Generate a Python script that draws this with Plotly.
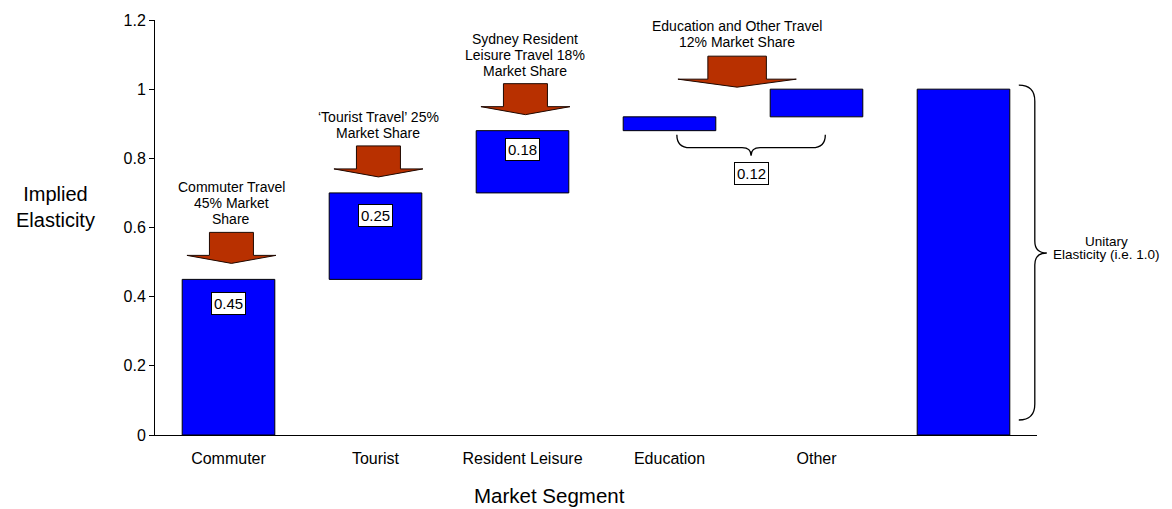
import plotly.graph_objects as go

# ---- data -------------------------------------------------------------
segments = ["Commuter", "Tourist", "Resident Leisure", "Education", "Other"]
shares = [0.45, 0.25, 0.18, 0.04, 0.08]          # implied elasticity contribution
total_elasticity = 1.0
callouts = [
    "Commuter Travel<br>45% Market<br>Share",
    "\u2018Tourist Travel\u2019 25%<br>Market Share",
    "Sydney Resident<br>Leisure Travel 18%<br>Market Share",
    "Education and Other Travel<br>12% Market Share",
]
total_note = "Unitary<br>Elasticity (i.e. 1.0)"
y_ticks = [0, 0.2, 0.4, 0.6, 0.8, 1.0, 1.2]

# ---- derived waterfall geometry --------------------------------------
bases = []
run = 0.0
for s in shares:
    bases.append(run)
    run += s
tops = [b + s for b, s in zip(bases, shares)]

xs = list(range(len(segments) + 1))
bar_y = shares + [total_elasticity]
bar_base = bases + [0.0]

FONT = "Arial, 'Liberation Sans', sans-serif"
BLUE = "#0000FF"
ARROW = "#B83000"
X_RANGE = (-0.5, len(xs) - 0.5)
Y_RANGE = (0, 1.2)

# plot area size in pixels, used to turn pixel sizes into data units
L, R, T, B = 155, 135, 20, 74
PW, PH = 1172 - L - R, 509 - T - B
UX = (X_RANGE[1] - X_RANGE[0]) / PW   # data units per px (x)
UY = (Y_RANGE[1] - Y_RANGE[0]) / PH   # data units per px (y)

LINE_PX = 16          # tight line spacing for multi-line notes
box_drop_px = [13, 11, 7]


def xp(x):
    return (x - X_RANGE[0]) / (X_RANGE[1] - X_RANGE[0])


def yp(y):
    return (y - Y_RANGE[0]) / (Y_RANGE[1] - Y_RANGE[0])


fig = go.Figure()
fig.add_trace(go.Bar(
    x=xs, y=bar_y, base=bar_base, width=0.63,
    marker=dict(color=BLUE, line=dict(color="black", width=1)),
    hoverinfo="skip", showlegend=False,
))

shapes = []
annotations = []


def block_arrow(xc, ytip, scale=1.0):
    shw, hhw = 22 * UX * scale, 44.5 * UX * scale
    head_h, shaft_h = 8 * UY, 23 * UY
    yhb = ytip + head_h
    ytop = yhb + shaft_h
    path = (f"M {xc-shw},{ytop} L {xc+shw},{ytop} L {xc+shw},{yhb} "
            f"L {xc+hhw},{yhb} L {xc},{ytip} L {xc-hhw},{yhb} L {xc-shw},{yhb} Z")
    shapes.append(dict(type="path", xref="x", yref="y", path=path,
                       fillcolor=ARROW, line=dict(color="#1e0800", width=1),
                       layer="above"))
    return ytop


def stacked_text(x, y, text, first_center_px, size, xref="x", yref="y"):
    """Place each line separately (bottom line first_center_px above y)."""
    lines = text.split("<br>")
    n = len(lines)
    for k, line in enumerate(lines):
        annotations.append(dict(
            x=x, y=y, xref=xref, yref=yref, text=line, showarrow=False,
            xanchor="center", yanchor="middle",
            yshift=first_center_px + (n - 1 - k) * LINE_PX,
            font=dict(family=FONT, size=size, color="black")))


def value_box(xc, y, text, yshift):
    annotations.append(dict(x=xc, y=y, xref="x", yref="y", text=text,
                            showarrow=False, yanchor="top", yshift=yshift,
                            bgcolor="white", bordercolor="black", borderwidth=1,
                            borderpad=2,
                            font=dict(family=FONT, size=15, color="black")))


# individual segments: arrow + callout + value box
for i in range(3):
    ytop = block_arrow(i + 0.02, tops[i] + 16 * UY)
    stacked_text(i + 0.02, ytop, callouts[i], 13, 14)
    value_box(i, tops[i], f"{shares[i]:.2f}", -box_drop_px[i])

# Education + Other grouped
grp_x = (xs[3] + xs[4]) / 2 - 0.04
ytop = block_arrow(grp_x, tops[4] + 2 * UY, scale=1.33)
stacked_text(grp_x, ytop, callouts[3], 14, 14)

# horizontal brace under the grouped segments
bx0, bx1 = xs[3] + 0.05, xs[4] + 0.06
bxc = (bx0 + bx1) / 2
by_top = bases[3] - 4 * UY
by_mid = by_top - 13 * UY
by_tip = by_top - 21 * UY
dx_end, dx_mid = 13 * UX, 9 * UX
brace_h = (f"M {bx0},{by_top} Q {bx0},{by_mid} {bx0+dx_end},{by_mid} "
           f"L {bxc-dx_mid},{by_mid} Q {bxc},{by_mid} {bxc},{by_tip} "
           f"Q {bxc},{by_mid} {bxc+dx_mid},{by_mid} "
           f"L {bx1-dx_end},{by_mid} Q {bx1},{by_mid} {bx1},{by_top}")
shapes.append(dict(type="path", xref="x", yref="y", path=brace_h,
                   line=dict(color="black", width=1.3)))
value_box(bxc, by_tip, f"{sum(shares[3:]):.2f}", -6)

# vertical brace beside the total bar (paper coordinates, extends past axis)
tx = xs[-1]
vx0 = xp(tx + 0.315 + 9 * UX)
vxm = xp(tx + 0.315 + 25 * UX)
vxt = xp(tx + 0.315 + 37 * UX)
vy_top = yp(total_elasticity + 4 * UY)
vy_bot = yp(0.0 + 15 * UY)
vy_mid = yp(0.0 + 182 * UY)
ddy = 16 / PH
ddy2 = 12 / PH
brace_v = (f"M {vx0},{vy_top} Q {vxm},{vy_top} {vxm},{vy_top-ddy} "
           f"L {vxm},{vy_mid+ddy2} Q {vxm},{vy_mid} {vxt},{vy_mid} "
           f"Q {vxm},{vy_mid} {vxm},{vy_mid-ddy2} "
           f"L {vxm},{vy_bot+ddy} Q {vxm},{vy_bot} {vx0},{vy_bot}")
shapes.append(dict(type="path", xref="paper", yref="paper", path=brace_v,
                   line=dict(color="black", width=1.3)))
note_lines = total_note.split("<br>")
for k, line in enumerate(note_lines):
    annotations.append(dict(x=vxt + 60 / PW, y=vy_mid, xref="paper", yref="paper",
                            text=line, showarrow=False, xanchor="center",
                            yanchor="middle", yshift=12 - 13 * k,
                            font=dict(family=FONT, size=13.5, color="black")))

# axis titles
annotations.append(dict(x=-100 / PW, y=(PH - 207 + T) / PH, xref="paper", yref="paper",
                        text="Implied<br>Elasticity", showarrow=False,
                        xanchor="center", yanchor="middle",
                        font=dict(family=FONT, size=20, color="black")))
annotations.append(dict(x=(549 - L) / PW, y=-(495 - T - PH) / PH, xref="paper",
                        yref="paper", text="Market Segment", showarrow=False,
                        xanchor="center", yanchor="middle",
                        font=dict(family=FONT, size=20.5, color="black")))

fig.update_layout(
    width=1172, height=509,
    margin=dict(l=L, r=R, t=T, b=B),
    paper_bgcolor="white", plot_bgcolor="white",
    font=dict(family=FONT, color="black"),
    shapes=shapes, annotations=annotations,
    bargap=0.37,
)
fig.update_xaxes(
    range=list(X_RANGE), tickvals=xs[:-1], ticktext=segments,
    showline=True, linecolor="black", linewidth=1, showgrid=False,
    zeroline=False, ticks="outside", ticklen=9, tickcolor="rgba(0,0,0,0)",
    tickfont=dict(family=FONT, size=16, color="black"),
)
fig.update_yaxes(
    range=list(Y_RANGE), tickvals=y_ticks,
    showline=True, linecolor="black", linewidth=1, showgrid=False,
    zeroline=False, ticks="outside", ticklen=5, tickcolor="black",
    tickfont=dict(family=FONT, size=16, color="black"),
)

fig.write_html("out.html")
